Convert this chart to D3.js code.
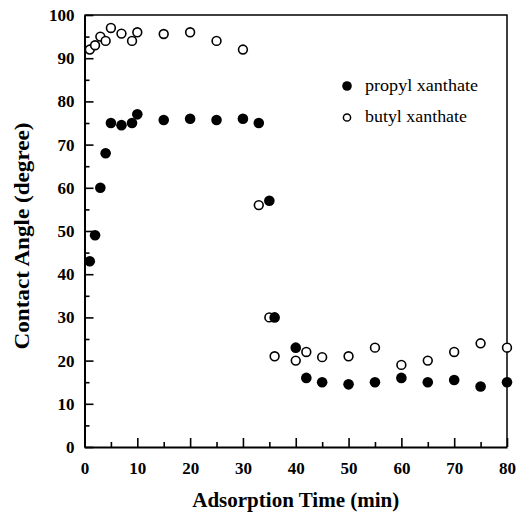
<!DOCTYPE html>
<html>
<head>
	<meta charset="utf-8">
	<title>Contact angle</title>
	<script src="https://d3js.org/d3.v7.min.js"></script>
	<style type="text/css">
		body{margin:0;background:#fff;}
		.axis path{fill:none;stroke:#000;stroke-width:2px;}
		.axis line{stroke:#000;stroke-width:1.6px;}
		.axis text{font-family:"Liberation Serif",serif;font-size:17px;font-weight:bold;fill:#000;}
	</style>
</head>
<body>
	<script type="text/javascript">
		var w = 522;
		var h = 514;
		var margin = {left:84.5, right:15, top:15, bottom:67};

		// data
		var propylTime = [1,2,3,4,5,7,9,10,15,20,25,30,33,35,36,40,42,45,50,55,60,65,70,75,80];
		var propylAngle = [43,49,60,68,75,74.5,75,77,75.7,76,75.7,76,75,57,30,23,16,15,14.5,15,16,15,15.5,14,15];
		var butylTime = [1,2,3,4,5,7,9,10,15,20,25,30,33,35,36,40,42,45,50,55,60,65,70,75,80];
		var butylAngle = [92,93,95,94,97,95.7,94,96,95.6,96,94,92,56,30,21,20,22,20.8,21,23,19,20,22,24,23];
		var xTicks = [0,10,20,30,40,50,60,70,80];
		var yTicks = [0,10,20,30,40,50,60,70,80,90,100];
		var seriesNames = ["propyl xanthate","butyl xanthate"];

		var svg = d3.select("body").append("svg")
			.attr("width",w)
			.attr("height",h);

		var xScale = d3.scaleLinear()
			.domain([0,80])
			.range([margin.left,w - margin.right]);
		var yScale = d3.scaleLinear()
			.domain([0,100])
			.range([h - margin.bottom,margin.top]);

		// frame top / right
		svg.append("path")
			.attr("d","M" + xScale(0) + "," + yScale(100) + "H" + xScale(80) + "V" + yScale(0))
			.attr("fill","none")
			.attr("stroke","#000")
			.attr("stroke-width",1.5);

		// minor ticks first, inward
		var xAxisMinor = d3.axisTop(xScale).tickValues(d3.range(5,80,10)).tickSize(5).tickFormat("");
		var yAxisMinor = d3.axisRight(yScale).tickValues(d3.range(5,100,10)).tickSize(5).tickFormat("");
		svg.append("g").attr("class","axis")
			.attr("transform","translate(0," + yScale(0) + ")")
			.call(xAxisMinor)
			.select(".domain").remove();
		svg.append("g").attr("class","axis")
			.attr("transform","translate(" + xScale(0) + ",0)")
			.call(yAxisMinor)
			.select(".domain").remove();

		var xAxis = d3.axisBottom(xScale).tickValues(xTicks).tickSizeInner(-9).tickSizeOuter(0).tickPadding(15);
		var yAxis = d3.axisLeft(yScale).tickValues(yTicks).tickSizeInner(-9).tickSizeOuter(0).tickPadding(10);

		svg.append("g").attr("class","axis")
			.attr("transform","translate(0," + yScale(0) + ")")
			.call(xAxis);
		svg.append("g").attr("class","axis")
			.attr("transform","translate(" + xScale(0) + ",0)")
			.call(yAxis);

		// axis titles
		svg.append("text")
			.text("Adsorption Time (min)")
			.attr("x",(xScale(0) + xScale(80)) / 2)
			.attr("y",507)
			.attr("text-anchor","middle")
			.attr("textLength",207)
			.attr("lengthAdjust","spacingAndGlyphs")
			.attr("font-family","Liberation Serif, serif")
			.attr("font-weight","bold")
			.attr("font-size","20px");
		svg.append("text")
			.text("Contact Angle (degree)")
			.attr("transform","translate(28.5,236) rotate(-90)")
			.attr("text-anchor","middle")
			.attr("textLength",227)
			.attr("lengthAdjust","spacingAndGlyphs")
			.attr("font-family","Liberation Serif, serif")
			.attr("font-weight","bold")
			.attr("font-size","20px");

		// points
		svg.append("g").selectAll("circle")
			.data(butylTime)
			.enter()
			.append("circle")
			.attr("cx",function(d){ return xScale(d); })
			.attr("cy",function(d,i){ return yScale(butylAngle[i]); })
			.attr("r",4.4)
			.attr("fill","#fff")
			.attr("stroke","#000")
			.attr("stroke-width",1.6);

		svg.append("g").selectAll("circle")
			.data(propylTime)
			.enter()
			.append("circle")
			.attr("cx",function(d){ return xScale(d); })
			.attr("cy",function(d,i){ return yScale(propylAngle[i]); })
			.attr("r",5.3)
			.attr("fill","#000");

		// legend
		var legend = svg.append("g").selectAll("g")
			.data(seriesNames)
			.enter()
			.append("g")
			.attr("transform",function(d,i){ return "translate(347," + (86 + i*31.5) + ")"; });
		legend.append("circle")
			.attr("r",function(d,i){ return i == 0 ? 4.8 : 3.6; })
			.attr("fill",function(d,i){ return i == 0 ? "#000" : "#fff"; })
			.attr("stroke","#000")
			.attr("stroke-width",function(d,i){ return i == 0 ? 0 : 1.5; });
		legend.append("text")
			.text(function(d){ return d; })
			.attr("x",18)
			.attr("y",4.5)
			.attr("textLength",function(d,i){ return i == 0 ? 113 : 102; })
			.attr("lengthAdjust","spacingAndGlyphs")
			.attr("font-family","Liberation Serif, serif")
			.attr("font-size","17px");
	</script>
</body>
</html>
